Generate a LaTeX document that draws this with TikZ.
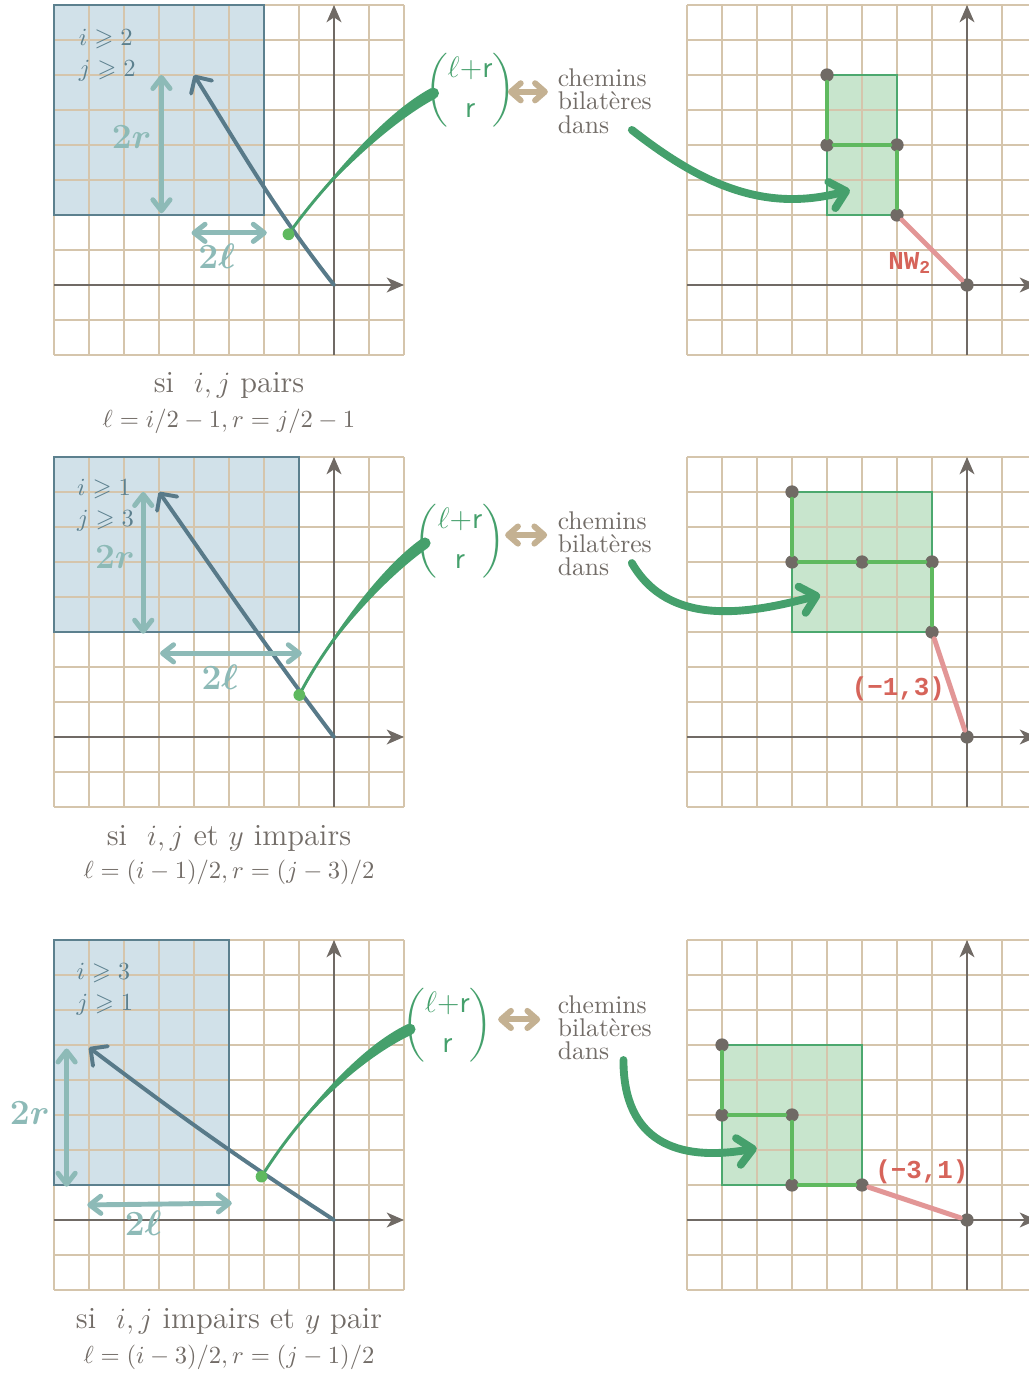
\documentclass[tikz,border=0pt]{standalone}
\usepackage{amsmath,amssymb}
\usepackage{fontspec}
\newfontfamily\etiqfont{Liberation Mono}
\usetikzlibrary{
    arrows.meta,
    calc,
    positioning
}
\definecolor{grillec}{RGB}{213,197,172}
\definecolor{axec}{RGB}{112,106,101}
\definecolor{bleufond}{RGB}{209,225,233}
\definecolor{bleubord}{RGB}{92,128,142}
\definecolor{ardoise}{RGB}{88,122,137}
\definecolor{sarcelle}{RGB}{141,186,183}
\definecolor{vertfonce}{RGB}{69,160,108}
\definecolor{vertclair}{RGB}{95,185,95}
\definecolor{vertfond}{RGB}{200,229,205}
\definecolor{vertbord}{RGB}{76,168,110}
\definecolor{rose}{RGB}{226,150,150}
\definecolor{rouge}{RGB}{214,100,90}
\definecolor{beige}{RGB}{196,177,146}
\definecolor{gristexte}{RGB}{114,108,103}
\tikzset{
  grille/.style={draw=grillec, line width=0.6pt, step=0.5cm},
  axe/.style={draw=axec, line width=1.1pt, -{Stealth[length=7pt,width=6pt,inset=2pt]}},
  fleche/.style={draw=ardoise, line width=1.6pt, line cap=round,
    -{Straight Barb[length=5pt,width=10pt,round]}},
  mesure/.style={draw=sarcelle, line width=2pt, line cap=round,
    {Straight Barb[length=4.5pt,width=7pt,round]}-{Straight Barb[length=4.5pt,width=7pt,round]}},
  equiv/.style={draw=beige, line width=2.4pt, line cap=round,
    {Straight Barb[length=4pt,width=7pt,round]}-{Straight Barb[length=4pt,width=7pt,round]}},
  bijection/.style={draw=vertfonce, line width=3.2pt, line cap=round,
    -{Straight Barb[length=6pt,width=11pt,round]}},
  chemin/.style={draw=vertclair, line width=2pt, line cap=round},
  pas/.style={draw=rose, line width=2pt, line cap=round},
  sommet/.style={circle, fill=axec, inner sep=0pt, minimum size=5.4pt},
  attache/.style={circle, fill=vertclair, inner sep=0pt, minimum size=4.8pt},
  cond/.style={text=bleubord, font=\fontsize{10}{11}\selectfont, inner sep=0pt, anchor=base west},
  cote/.style={text=sarcelle, font=\fontsize{14.5}{16}\selectfont\boldmath, inner sep=0pt},
  binome/.style={text=vertfonce, font=\fontsize{12.5}{14}\selectfont, inner sep=0pt},
  chemins/.style={text=gristexte, align=left, anchor=north west, inner sep=0pt,
    font=\fontsize{10.4}{9.5}\selectfont},
  legende/.style={text=gristexte, font=\fontsize{12.5}{14}\selectfont, inner sep=0pt, anchor=base},
  formule/.style={text=gristexte, font=\fontsize{10.2}{12}\selectfont, inner sep=0pt, anchor=base},
  etiq/.style={text=rouge, font=\fontsize{10.5}{12}\etiqfont\bfseries, inner sep=0pt}
}

\begin{document}
\begin{tikzpicture}[x=0.5cm, y=0.5cm]

    \useasboundingbox (-9.543,-31.086) rectangle (19.829,8.143);

    %-------------------------
    % ligne 1 : i, j pairs
    %-------------------------
    \fill[bleufond] (-8,2) rectangle (-2,8);
    \draw[grille] (-8,-2) grid (2,8);
    \draw[bleubord, line width=0.7pt] (-8,2) rectangle (-2,8);
    \draw[axe] (-8,0) -- (2,0);
    \draw[axe] (0,-2) -- (0,8);

    \node[cond] (iA) at (-7.3,6.83) {$i \geqslant 2$};
    \node[cond] (jA) at (-7.3,5.95) {$j \geqslant 2$};

    \coordinate (OA) at (0,0);
    \coordinate (FA) at (-4,6);
    \draw[fleche] (OA) to[out=128,in=-58] (FA);

    \coordinate (rhA) at (-4.93,6);
    \coordinate (rbA) at (-4.93,2.05);
    \draw[mesure] (rhA) -- (rbA);
    \node[cote] (rA) at (-5.78,4.24) {$2r$};
    \coordinate (lgA) at (-4.07,1.49);
    \coordinate (ldA) at (-1.92,1.49);
    \draw[mesure] (lgA) -- (ldA);
    \node[cote] (lA) at (-3.35,0.81) {$2\ell$};

    \coordinate (DA) at (-1.3,1.45);
    \coordinate (EA) at (2.84,5.48);
    \fill[vertfonce] (DA) .. controls ($(DA)+(55:1.6)$) and ($(EA)+(208:1.6)+(118:0.16)$) .. ($(EA)+(118:0.16)$)
        -- ($(EA)+(-62:0.16)$) .. controls ($(EA)+(208:1.6)+(-62:0.16)$) and ($(DA)+(55:1.6)$) .. (DA) -- cycle;
    \draw[vertfonce, line width=1.2pt] (DA) .. controls ($(DA)+(55:1.6)$) and ($(EA)+(208:1.6)$) .. (EA);
    \fill[vertfonce] (EA) circle (0.16);
    \node[attache] (pA) at (DA) {};

    \node[binome] (bA) at (3.89,5.57) {$\dbinom{\ell{+}\mathsf{r}}{\mathsf{r}}$};
    \coordinate (tgA) at (4.97,5.52);
    \coordinate (tdA) at (6.11,5.52);
    \draw[equiv] (tgA) -- (tdA);
    \node[chemins] (cA) at (6.38,6.19) {chemins\\bilatères\\dans};

    \node[legende] (sA) at (-3,-3.07) {si~ $i,j$ pairs};
    \node[formule] (fA) at (-3,-4.06) {$\ell = i/2-1, r = j/2-1$};

    \begin{scope}[shift={(18.086,0)}]
      \fill[vertfond] (-4,2) rectangle (-2,6);
      \draw[grille] (-8,-2) grid (2,8);
      \draw[vertbord, line width=0.7pt] (-4,2) rectangle (-2,6);
      \draw[axe] (-8,0) -- (2,0);
      \draw[axe] (0,-2) -- (0,8);

      \node[sommet] (a1) at (-4,6) {};
      \node[sommet] (a2) at (-4,4) {};
      \node[sommet] (a3) at (-2,4) {};
      \node[sommet] (a4) at (-2,2) {};
      \node[sommet] (a0) at (0,0) {};
      \draw[chemin] (a1) -- (a2);
      \draw[chemin] (a2) -- (a3);
      \draw[chemin] (a3) -- (a4);
      \draw[pas] (a4) -- (a0);
      \node[etiq] (nA) at (-1.63,0.62) {NW\textsubscript{2}};
    \end{scope}

    \coordinate (gA) at (8.51,4.43);
    \coordinate (hA) at (14.74,2.71);
    \draw[bijection] (gA) to[out=-38,in=195] (hA);

    %-------------------------
    % ligne 2 : i, j et y impairs
    %-------------------------
    \begin{scope}[shift={(0,-12.914)}]
      \fill[bleufond] (-8,3) rectangle (-1,8);
      \draw[grille] (-8,-2) grid (2,8);
      \draw[bleubord, line width=0.7pt] (-8,3) rectangle (-1,8);
      \draw[axe] (-8,0) -- (2,0);
      \draw[axe] (0,-2) -- (0,8);

      \node[cond] (iB) at (-7.35,6.89) {$i \geqslant 1$};
      \node[cond] (jB) at (-7.35,6.01) {$j \geqslant 3$};

      \coordinate (OB) at (0,0);
      \coordinate (FB) at (-5,7);
      \draw[fleche] (OB) to[out=127,in=-55] (FB);

      \coordinate (rhB) at (-5.45,7);
      \coordinate (rbB) at (-5.45,2.95);
      \draw[mesure] (rhB) -- (rbB);
      \node[cote] (rB) at (-6.26,5.15) {$2r$};
      \coordinate (lgB) at (-4.97,2.39);
      \coordinate (ldB) at (-0.92,2.39);
      \draw[mesure] (lgB) -- (ldB);
      \node[cote] (lB) at (-3.26,1.72) {$2\ell$};

      \coordinate (DB) at (-0.99,1.2);
      \coordinate (EB) at (2.6,5.54);
      \fill[vertfonce] (DB) .. controls ($(DB)+(63:1.7)$) and ($(EB)+(215:1.5)+(125:0.16)$) .. ($(EB)+(125:0.16)$)
          -- ($(EB)+(-55:0.16)$) .. controls ($(EB)+(215:1.5)+(-55:0.16)$) and ($(DB)+(63:1.7)$) .. (DB) -- cycle;
      \draw[vertfonce, line width=1.2pt] (DB) .. controls ($(DB)+(63:1.7)$) and ($(EB)+(215:1.5)$) .. (EB);
      \fill[vertfonce] (EB) circle (0.16);
      \node[attache] (pB) at (DB) {};

      \node[binome] (bB) at (3.6,5.6) {$\dbinom{\ell{+}\mathsf{r}}{\mathsf{r}}$};
      \coordinate (tgB) at (4.89,5.77);
      \coordinate (tdB) at (6.09,5.77);
      \draw[equiv] (tgB) -- (tdB);
      \node[chemins] (cB) at (6.38,6.46) {chemins\\bilatères\\dans};

      \node[legende] (sB) at (-3,-3.09) {si~ $i,j$ et $y$ impairs};
      \node[formule] (fB) at (-3,-4.04) {$\ell = (i-1)/2, r = (j-3)/2$};
    \end{scope}

    \begin{scope}[shift={(18.086,-12.914)}]
      \fill[vertfond] (-5,3) rectangle (-1,7);
      \draw[grille] (-8,-2) grid (2,8);
      \draw[vertbord, line width=0.7pt] (-5,3) rectangle (-1,7);
      \draw[axe] (-8,0) -- (2,0);
      \draw[axe] (0,-2) -- (0,8);

      \node[sommet] (b1) at (-5,7) {};
      \node[sommet] (b2) at (-5,5) {};
      \node[sommet] (b3) at (-3,5) {};
      \node[sommet] (b4) at (-1,5) {};
      \node[sommet] (b5) at (-1,3) {};
      \node[sommet] (b0) at (0,0) {};
      \draw[chemin] (b1) -- (b2);
      \draw[chemin] (b2) -- (b3);
      \draw[chemin] (b3) -- (b4);
      \draw[chemin] (b4) -- (b5);
      \draw[pas] (b5) -- (b0);
      \node[etiq] (nB) at (-1.96,1.39) {(−1,3)};
    \end{scope}

    \coordinate (gB) at (8.51,-7.944);
    \coordinate (hB) at (13.89,-8.854);
    \draw[bijection] (gB) to[out=-60,in=195] (hB);

    %-------------------------
    % ligne 3 : i, j impairs et y pair
    %-------------------------
    \begin{scope}[shift={(0,-26.714)}]
      \fill[bleufond] (-8,1) rectangle (-3,8);
      \draw[grille] (-8,-2) grid (2,8);
      \draw[bleubord, line width=0.7pt] (-8,1) rectangle (-3,8);
      \draw[axe] (-8,0) -- (2,0);
      \draw[axe] (0,-2) -- (0,8);

      \node[cond] (iC) at (-7.37,6.88) {$i \geqslant 3$};
      \node[cond] (jC) at (-7.37,5.98) {$j \geqslant 1$};

      \coordinate (OC) at (0,0);
      \coordinate (FC) at (-7,4.93);
      \draw[fleche] (OC) to[out=147,in=-37] (FC);

      \coordinate (rhC) at (-7.64,4.9);
      \coordinate (rbC) at (-7.64,0.95);
      \draw[mesure] (rhC) -- (rbC);
      \node[cote] (rC) at (-8.69,3.05) {$2r$};
      \coordinate (lgC) at (-7.05,0.43);
      \coordinate (ldC) at (-2.92,0.48);
      \draw[mesure] (lgC) -- (ldC);
      \node[cote] (lC) at (-5.45,-0.1) {$2\ell$};

      \coordinate (DC) at (-2.07,1.24);
      \coordinate (EC) at (2.17,5.45);
      \fill[vertfonce] (DC) .. controls ($(DC)+(58:2.2)$) and ($(EC)+(205:1.5)+(115:0.16)$) .. ($(EC)+(115:0.16)$)
          -- ($(EC)+(-65:0.16)$) .. controls ($(EC)+(205:1.5)+(-65:0.16)$) and ($(DC)+(58:2.2)$) .. (DC) -- cycle;
      \draw[vertfonce, line width=1.2pt] (DC) .. controls ($(DC)+(58:2.2)$) and ($(EC)+(205:1.5)$) .. (EC);
      \fill[vertfonce] (EC) circle (0.16);
      \node[attache] (pC) at (DC) {};

      \node[binome] (bC) at (3.24,5.57) {$\dbinom{\ell{+}\mathsf{r}}{\mathsf{r}}$};
      \coordinate (tgC) at (4.69,5.73);
      \coordinate (tdC) at (5.89,5.73);
      \draw[equiv] (tgC) -- (tdC);
      \node[chemins] (cC) at (6.38,6.43) {chemins\\bilatères\\dans};

      \node[legende] (sC) at (-3,-3.09) {si~ $i,j$ impairs et $y$ pair};
      \node[formule] (fC) at (-3,-4.09) {$\ell = (i-3)/2, r = (j-1)/2$};
    \end{scope}

    \begin{scope}[shift={(18.086,-26.714)}]
      \fill[vertfond] (-7,1) rectangle (-3,5);
      \draw[grille] (-8,-2) grid (2,8);
      \draw[vertbord, line width=0.7pt] (-7,1) rectangle (-3,5);
      \draw[axe] (-8,0) -- (2,0);
      \draw[axe] (0,-2) -- (0,8);

      \node[sommet] (c1) at (-7,5) {};
      \node[sommet] (c2) at (-7,3) {};
      \node[sommet] (c3) at (-5,3) {};
      \node[sommet] (c4) at (-5,1) {};
      \node[sommet] (c5) at (-3,1) {};
      \node[sommet] (c0) at (0,0) {};
      \draw[chemin] (c1) -- (c2);
      \draw[chemin] (c2) -- (c3);
      \draw[chemin] (c3) -- (c4);
      \draw[chemin] (c4) -- (c5);
      \draw[pas] (c5) -- (c0);
      \node[etiq] (nC) at (-1.29,1.38) {(−3,1)};
    \end{scope}

    \coordinate (gC) at (8.27,-22.144);
    \coordinate (hC) at (12.08,-24.664);
    \draw[bijection] (gC) to[out=-90,in=190,looseness=1.3] (hC);

\end{tikzpicture}
\end{document}
